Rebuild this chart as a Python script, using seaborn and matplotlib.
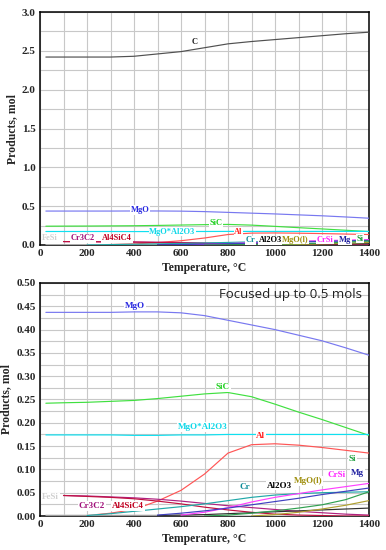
import numpy as np
import pandas as pd
import matplotlib
matplotlib.use("Agg")
import matplotlib.pyplot as plt
import seaborn as sns
from matplotlib.ticker import MultipleLocator

# Equilibrium products vs temperature
temps = [25, 100, 200, 300, 400, 500, 600, 700, 800, 900, 1000, 1100, 1200, 1300, 1400]
nan = np.nan
C = [2.42, 2.42, 2.42, 2.42, 2.43, 2.46, 2.49, 2.54, 2.59, 2.62, 2.645, 2.67, 2.695, 2.72, 2.74]
MgO = [0.437, 0.437, 0.437, 0.437, 0.438, 0.438, 0.436, 0.430, 0.420, 0.410, 0.400, 0.388, 0.376, 0.361, 0.345]
SiC = [0.242, 0.243, 0.244, 0.246, 0.248, 0.252, 0.257, 0.262, 0.265, 0.256, 0.240, 0.223, 0.207, 0.190, 0.173]
MgO_Al2O3 = [0.174, 0.174, 0.174, 0.174, 0.173, 0.173, 0.174, 0.174, 0.175, 0.175, 0.175, 0.175, 0.175, 0.175, 0.175]
Al = [nan, nan, 0.001, 0.006, 0.014, 0.032, 0.055, 0.090, 0.135, 0.153, 0.155, 0.152, 0.147, 0.141, 0.135]
FeSi = [0.002, 0.002, 0.002, 0.002, 0.002, 0.002, 0.002, 0.001, 0.001, 0.001, 0.001, 0.001, 0.001, 0.001, 0.001]
Cr3C2 = [nan, 0.044, 0.043, 0.041, 0.039, 0.036, 0.032, 0.027, 0.022, 0.018, 0.014, 0.010, 0.007, 0.004, 0.002]
Al4SiC4 = [nan, 0.044, 0.042, 0.040, 0.037, 0.032, 0.026, 0.019, 0.013, 0.008, 0.004, 0.002, 0.001, 0.0, 0.0]
Cr = [nan, nan, 0.001, 0.005, 0.010, 0.015, 0.020, 0.026, 0.033, 0.040, 0.045, 0.048, 0.050, 0.051, 0.052]
Al2O3 = [nan, nan, nan, nan, nan, 0.001, 0.002, 0.003, 0.005, 0.007, 0.009, 0.011, 0.013, 0.015, 0.017]
MgO_l = [nan, nan, nan, nan, nan, nan, nan, nan, nan, 0.0, 0.003, 0.008, 0.015, 0.023, 0.033]
CrSi = [nan, nan, nan, nan, nan, nan, 0.002, 0.008, 0.018, 0.030, 0.040, 0.048, 0.056, 0.063, 0.070]
Mg = [nan, nan, nan, nan, nan, 0.002, 0.006, 0.011, 0.017, 0.024, 0.031, 0.038, 0.046, 0.053, 0.060]
Si = [nan, nan, nan, nan, nan, nan, nan, 0.0, 0.002, 0.006, 0.011, 0.017, 0.024, 0.035, 0.052]

series = {"C": C, "MgO": MgO, "SiC": SiC, "MgO*Al2O3": MgO_Al2O3, "Al": Al,
          "FeSi": FeSi, "Cr3C2": Cr3C2, "Al4SiC4": Al4SiC4, "Cr": Cr, "Al2O3": Al2O3,
          "MgO(l)": MgO_l, "CrSi": CrSi, "Mg": Mg, "Si": Si}
line_colors = {"C": "#505050", "MgO": "#7878f0", "SiC": "#40e040", "MgO*Al2O3": "#10e0f0",
               "Al": "#ff5555", "FeSi": "#d0d0d0", "Cr3C2": "#b02080", "Al4SiC4": "#c01040",
               "Cr": "#20a8a8", "Al2O3": "#303030", "MgO(l)": "#b0a030", "CrSi": "#ff40ff",
               "Mg": "#4040c0", "Si": "#30a050"}
text_colors = {"C": "#202020", "MgO": "#2828e0", "SiC": "#20d020", "MgO*Al2O3": "#10d8e8",
               "Al": "#ff2020", "FeSi": "#d0d0d0", "Cr3C2": "#a0107a", "Al4SiC4": "#c00020",
               "Cr": "#108c98", "Al2O3": "#000000", "MgO(l)": "#a09010", "CrSi": "#ff20ff",
               "Mg": "#2020a0", "Si": "#20a040"}

# label positions (temperature, mol) for each panel
labels_top = {"C": (660, 2.62), "MgO": (425, 0.45), "SiC": (748, 0.285), "MgO*Al2O3": (563, 0.17),
              "Al": (845, 0.17), "FeSi": (43, 0.085), "Cr3C2": (183, 0.085), "Al4SiC4": (328, 0.085),
              "Cr": (894, 0.06), "Al2O3": (979, 0.06), "MgO(l)": (1085, 0.07), "CrSi": (1213, 0.07),
              "Mg": (1298, 0.065), "Si": (1362, 0.08)}
labels_bot = {"MgO": (404, 0.451), "SiC": (779, 0.276), "MgO*Al2O3": (693, 0.191),
              "Al": (940, 0.171), "FeSi": (45, 0.04), "Cr3C2": (220, 0.021), "Al4SiC4": (375, 0.021),
              "Cr": (872, 0.062), "Al2O3": (1020, 0.065), "MgO(l)": (1140, 0.075),
              "CrSi": (1262, 0.088), "Mg": (1352, 0.092), "Si": (1330, 0.123)}

df = pd.DataFrame(series)
df["T"] = temps
long = df.melt(id_vars="T", var_name="species", value_name="mol").dropna()

sns.set_style("white")
plt.rcParams["font.family"] = ["Liberation Serif", "DejaVu Serif"]

fig = plt.figure(figsize=(3.86, 5.5), dpi=100)
ax1 = fig.add_axes([40 / 386, 1 - 245 / 550, 329 / 386, 233 / 550])
ax2 = fig.add_axes([40 / 386, 1 - 516 / 550, 329 / 386, 233 / 550])


def draw(ax, labels, ymax, ymajor, yminor, fmt, lsize):
    for name in series:
        sub = long[long["species"] == name]
        sns.lineplot(data=sub, x="T", y="mol", color=line_colors[name], lw=0.85, ax=ax,
                     legend=False, zorder=3)
    for name, (x, y) in labels.items():
        ax.text(x, y, name, color=text_colors[name], fontsize=lsize, fontweight="bold",
                ha="center", va="center", zorder=5,
                bbox=dict(facecolor="white", edgecolor="none", pad=0.5))
    ax.set_xlim(0, 1400)
    ax.set_ylim(0, ymax)
    ax.xaxis.set_major_locator(MultipleLocator(200))
    ax.xaxis.set_minor_locator(MultipleLocator(100))
    ax.yaxis.set_major_locator(MultipleLocator(ymajor))
    ax.yaxis.set_minor_locator(MultipleLocator(yminor))
    ax.yaxis.set_major_formatter(fmt)
    ax.grid(which="both", color="#c8c8c8", lw=0.8, zorder=0)
    ax.set_axisbelow(True)
    ax.tick_params(which="both", length=0, labelsize=8, pad=3)
    for lab in ax.get_xticklabels() + ax.get_yticklabels():
        lab.set_fontweight("bold")
    ax.set_xlabel("Temperature, \u00b0C", fontsize=8.5, fontweight="bold", labelpad=3)
    ax.set_ylabel("Products, mol", fontsize=8.5, fontweight="bold", labelpad=3)
    for side in ["left", "bottom", "top", "right"]:
        ax.spines[side].set_color("black")
        ax.spines[side].set_linewidth(1.1)


draw(ax1, labels_top, 3.0, 0.5, 0.25, "{x:.1f}", 6)
draw(ax2, labels_bot, 0.5, 0.05, 0.025, "{x:.2f}", 6.5)
ax2.text(1370, 0.475, "Focused up to 0.5 mols", ha="right", va="center", fontsize=9.5,
         family=["Open Sans", "DejaVu Sans"], color="#202020")

fig.savefig("out.png", dpi=100)
